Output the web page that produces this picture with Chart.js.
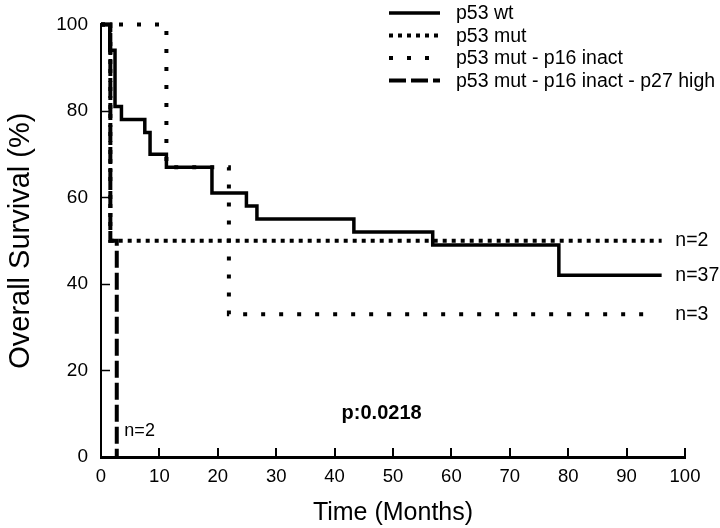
<!DOCTYPE html>
<html>
<head>
<meta charset="utf-8">
<script src="https://cdn.jsdelivr.net/npm/chart.js@4/dist/chart.umd.min.js"></script>
<style>
html, body { margin: 0; padding: 0; background: #fff; }
</style>
</head>
<body>
<canvas id="kmChart" width="720" height="528"></canvas>
<script>
// series names (legend)
const seriesNames = ['p53 wt', 'p53 mut', 'p53 mut - p16 inact', 'p53 mut - p16 inact - p27 high'];

// Kaplan-Meier steps: time (months) and survival (%) after each event
const wtTime = [0, 1.5, 2.4, 3.5, 7.5, 8.4, 11.2, 19, 24.9, 26.7, 43.3, 56.8, 78.4, 96];
const wtSurv = [100, 94, 81, 78, 75, 70, 67, 61, 58, 55, 52, 49, 42, 42];

const mutTime = [0, 1.6, 96];
const mutSurv = [100, 50, 50];

const p16Time = [0, 11.2, 21.9, 95];
const p16Surv = [100, 67, 33, 33];

const p27Time = [0, 1.6, 2.7];
const p27Surv = [100, 50, 0];

// number at risk labels at the end of each curve
const nLabels = ['n=2', 'n=37', 'n=3', 'n=2'];
const pValueText = 'p:0.0218';

const xTicks = [0, 10, 20, 30, 40, 50, 60, 70, 80, 90, 100];
const yTicks = [0, 20, 40, 60, 80, 100];

function toPoints(times, surv) {
    let data = [];
    for (let i = 0; i < times.length; i++) {
        data[i] = { x: times[i], y: surv[i] };
    }
    return data;
}

Chart.defaults.font.family = "'Liberation Sans', Arial, sans-serif";
Chart.defaults.color = '#000';

const lineBase = {
    borderColor: '#000',
    pointRadius: 0,
    stepped: true,
    fill: false,
    clip: false,
    borderCapStyle: 'butt',
    borderJoinStyle: 'miter'
};

const data = {
    datasets: [
        { ...lineBase, label: seriesNames[0], data: toPoints(wtTime, wtSurv), borderWidth: 3.5, borderDash: [] },
        { ...lineBase, label: seriesNames[1], data: toPoints(mutTime, mutSurv), borderWidth: 4, borderDash: [4, 5] },
        { ...lineBase, label: seriesNames[2], data: toPoints(p16Time, p16Surv), borderWidth: 4, borderDash: [4, 14] },
        { ...lineBase, label: seriesNames[3], data: toPoints(p27Time, p27Surv), borderWidth: 4, borderDash: [17, 5] }
    ]
};

// legend drawn as line samples top right
const legendLines = {
    id: 'legendLines',
    afterDraw(chart) {
        const ctx = chart.ctx;
        const rows = [13, 35.5, 58, 80.5];
        ctx.save();
        chart.data.datasets.forEach((ds, i) => {
            ctx.strokeStyle = '#000';
            ctx.lineWidth = ds.borderWidth;
            ctx.lineCap = 'butt';
            ctx.setLineDash(ds.borderDash);
            ctx.beginPath();
            ctx.moveTo(389, rows[i]);
            ctx.lineTo(440, rows[i]);
            ctx.stroke();
            ctx.setLineDash([]);
            ctx.fillStyle = '#000';
            ctx.font = "19.5px 'Liberation Sans', Arial, sans-serif";
            ctx.textAlign = 'left';
            ctx.textBaseline = 'middle';
            ctx.fillText(ds.label, 456, rows[i] + 1);
        });
        ctx.restore();
    }
};

// inward ticks + text annotations
const extras = {
    id: 'extras',
    afterDraw(chart) {
        const ctx = chart.ctx;
        const xs = chart.scales.x, ys = chart.scales.y;
        const area = chart.chartArea;
        ctx.save();
        ctx.strokeStyle = '#000';
        ctx.lineWidth = 2;
        xTicks.forEach(v => {
            const px = Math.round(xs.getPixelForValue(v));
            ctx.beginPath();
            ctx.moveTo(px, area.bottom);
            ctx.lineTo(px, area.bottom - 9);
            ctx.stroke();
        });
        ctx.lineWidth = 1.5;
        yTicks.forEach(v => {
            const py = Math.round(ys.getPixelForValue(v)) + 0.5;
            ctx.beginPath();
            ctx.moveTo(area.left, py);
            ctx.lineTo(area.left + 9, py);
            ctx.stroke();
        });

        ctx.fillStyle = '#000';
        ctx.textAlign = 'left';
        ctx.textBaseline = 'middle';
        ctx.font = "19.5px 'Liberation Sans', Arial, sans-serif";
        const rx = xs.getPixelForValue(98) + 2;
        ctx.fillText(nLabels[0], rx, ys.getPixelForValue(mutSurv[mutSurv.length - 1]));
        ctx.fillText(nLabels[1], rx, ys.getPixelForValue(wtSurv[wtSurv.length - 1]));
        ctx.fillText(nLabels[2], rx, ys.getPixelForValue(p16Surv[p16Surv.length - 1]));
        ctx.font = "18px 'Liberation Sans', Arial, sans-serif";
        ctx.fillText(nLabels[3], xs.getPixelForValue(4), ys.getPixelForValue(6));
        ctx.font = "bold 20px 'Liberation Sans', Arial, sans-serif";
        ctx.fillText(pValueText, xs.getPixelForValue(41.2), ys.getPixelForValue(10));
        ctx.restore();
    }
};

const options = {
    responsive: false,
    animation: false,
    devicePixelRatio: 1,
    layout: { padding: { top: 17, right: 35, left: 0, bottom: 0 } },
    plugins: {
        legend: { display: false },
        tooltip: { enabled: false }
    },
    scales: {
        x: {
            type: 'linear',
            min: 0,
            max: 100,
            afterFit: s => { s.height = 71; },
            afterBuildTicks: s => { s.ticks = xTicks.map(v => ({ value: v })); },
            grid: { display: false, drawTicks: false },
            border: { display: true, color: '#000', width: 3 },
            ticks: { padding: 9, font: { size: 18.5 }, color: '#000', maxRotation: 0 },
            title: { display: true, text: 'Time (Months)', font: { size: 25 }, color: '#000', padding: { top: 6, bottom: 0 } }
        },
        y: {
            type: 'linear',
            min: 0,
            max: 100,
            afterFit: s => { s.width = 101; },
            afterBuildTicks: s => { s.ticks = yTicks.map(v => ({ value: v })); },
            grid: { display: false, drawTicks: false },
            border: { display: true, color: '#000', width: 2 },
            ticks: { padding: 13, font: { size: 19 }, color: '#000' },
            title: { display: true, text: 'Overall Survival (%)', font: { size: 29 }, color: '#000', padding: { top: 4, bottom: 0 } }
        }
    }
};

new Chart('kmChart', { type: 'line', data, options, plugins: [legendLines, extras] });
</script>
</body>
</html>
